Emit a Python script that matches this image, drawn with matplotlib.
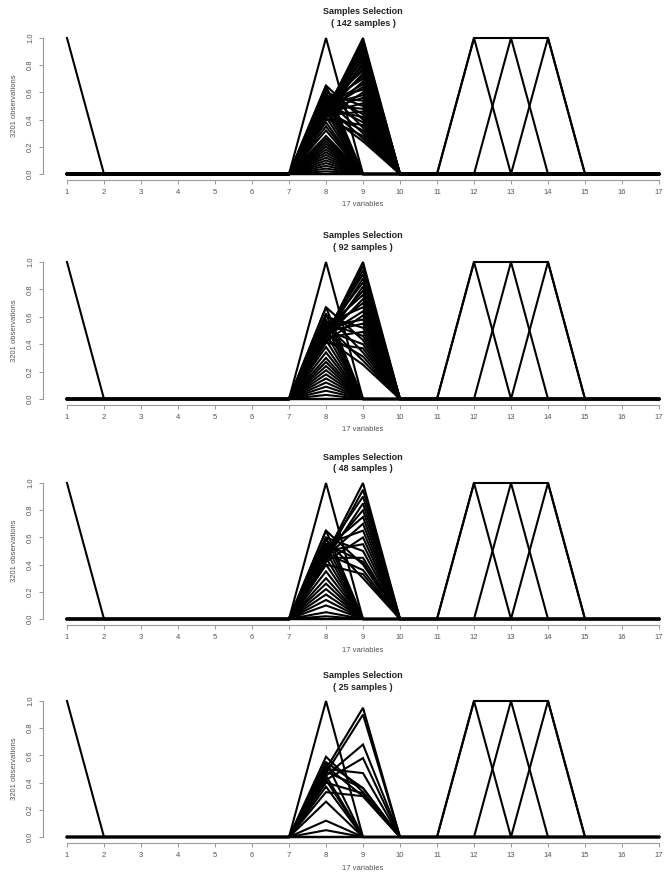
import matplotlib
matplotlib.use("Agg")
import matplotlib.pyplot as plt
import numpy as np

plt.rcParams['font.family'] = ['Liberation Sans', 'DejaVu Sans']

# ---- data ----
n_vars = 17
var_ids = list(range(1, n_vars + 1))
sample_counts = [142, 92, 48, 25]
n_obs = 3201

# indicator samples shared by all panels
var1_samples = [1.0]                       # value of variable 1
block_12_14 = [(1, 0, 0), (0, 1, 0), (0, 0, 1), (1, 1, 1)]  # variables 12, 13, 14

# (variable 8, variable 9) pairs per panel
p1_pairs = [
    (1.00, 0.00),
    (0.45, 1.00), (0.46, 0.98), (0.47, 0.96), (0.44, 0.94), (0.48, 0.92), (0.45, 0.90),
    (0.50, 0.88), (0.46, 0.86), (0.48, 0.84), (0.43, 0.82), (0.50, 0.80), (0.47, 0.78),
    (0.52, 0.76), (0.45, 0.74), (0.49, 0.72), (0.53, 0.70), (0.44, 0.68), (0.50, 0.66),
    (0.47, 0.64), (0.55, 0.62), (0.42, 0.60), (0.51, 0.58), (0.48, 0.56), (0.56, 0.54),
    (0.45, 0.52), (0.60, 0.50), (0.50, 0.48), (0.43, 0.46), (0.58, 0.44), (0.47, 0.42),
    (0.65, 0.40), (0.52, 0.38), (0.40, 0.36), (0.62, 0.34), (0.46, 0.32), (0.55, 0.30),
    (0.41, 0.28), (0.50, 0.26), (0.44, 0.24),
    (0.65, 0.00), (0.60, 0.00), (0.57, 0.00), (0.54, 0.00), (0.50, 0.00), (0.46, 0.00),
    (0.42, 0.00), (0.38, 0.00), (0.35, 0.00), (0.32, 0.00), (0.28, 0.00), (0.26, 0.00),
    (0.24, 0.00), (0.22, 0.00), (0.20, 0.00), (0.18, 0.00), (0.16, 0.00), (0.14, 0.00),
    (0.12, 0.00), (0.10, 0.00), (0.08, 0.00), (0.06, 0.00), (0.04, 0.00), (0.02, 0.00),
    (0.00, 0.00),
]
p2_pairs = [
    (1.00, 0.00),
    (0.46, 1.00), (0.47, 0.97), (0.45, 0.94), (0.49, 0.91), (0.46, 0.88), (0.50, 0.85),
    (0.44, 0.82), (0.48, 0.79), (0.52, 0.76), (0.45, 0.73), (0.50, 0.70), (0.55, 0.67),
    (0.47, 0.64), (0.42, 0.61), (0.53, 0.58), (0.49, 0.55), (0.60, 0.52), (0.45, 0.49),
    (0.56, 0.46), (0.67, 0.43), (0.50, 0.40), (0.41, 0.37), (0.62, 0.34), (0.47, 0.31),
    (0.54, 0.28), (0.44, 0.25),
    (0.67, 0.00), (0.62, 0.00), (0.58, 0.00), (0.53, 0.00), (0.48, 0.00), (0.43, 0.00),
    (0.38, 0.00), (0.34, 0.00), (0.30, 0.00), (0.27, 0.00), (0.24, 0.00), (0.21, 0.00),
    (0.18, 0.00), (0.15, 0.00), (0.12, 0.00), (0.09, 0.00), (0.06, 0.00), (0.03, 0.00),
    (0.00, 0.00),
]
p3_pairs = [
    (1.00, 0.00),
    (0.47, 1.00), (0.45, 0.95), (0.50, 0.90), (0.44, 0.85), (0.48, 0.80), (0.52, 0.75),
    (0.46, 0.70), (0.55, 0.65), (0.42, 0.60), (0.50, 0.55), (0.60, 0.50), (0.45, 0.45),
    (0.55, 0.42), (0.65, 0.40), (0.48, 0.36), (0.40, 0.33), (0.58, 0.30),
    (0.65, 0.00), (0.60, 0.00), (0.55, 0.00), (0.50, 0.00), (0.45, 0.00), (0.40, 0.00),
    (0.35, 0.00), (0.30, 0.00), (0.26, 0.00), (0.22, 0.00), (0.18, 0.00), (0.14, 0.00),
    (0.10, 0.00), (0.05, 0.00), (0.02, 0.00), (0.00, 0.00),
]
p4_pairs = [
    (1.00, 0.00),
    (0.50, 0.95), (0.47, 0.90), (0.45, 0.68), (0.42, 0.58), (0.50, 0.47), (0.55, 0.36),
    (0.59, 0.33), (0.52, 0.30), (0.48, 0.36), (0.40, 0.32), (0.33, 0.30),
    (0.55, 0.00), (0.45, 0.00), (0.42, 0.00), (0.37, 0.00), (0.26, 0.00), (0.12, 0.00),
    (0.05, 0.00), (0.00, 0.00),
]
panel_pairs = [p1_pairs, p2_pairs, p3_pairs, p4_pairs]

# pixel rows of y = 1.0 and y = 0.0 in each panel
panel_top_px = [38, 262, 483, 701]
panel_zero_px = [174, 399, 619, 837]


def build_rows(pairs):
    rows = []
    for v in var1_samples:
        r = np.zeros(n_vars)
        r[0] = v
        rows.append(r)
    for a, b in pairs:
        r = np.zeros(n_vars)
        r[7], r[8] = a, b
        rows.append(r)
    for pat in block_12_14:
        r = np.zeros(n_vars)
        r[11:14] = pat
        rows.append(r)
    return rows


W, H = 672, 877
fig = plt.figure(figsize=(W / 100, H / 100), dpi=100)

px_per_x = 37.0
x1_px = 67.0
left_px = 43.0
xlo = 1 - (x1_px - left_px) / px_per_x
xhi = 1 + (W - x1_px) / px_per_x
grey = '#555555'
mid_px = x1_px + 8 * px_per_x   # centre of the 1..17 range

for i, pairs in enumerate(panel_pairs):
    top, zero = panel_top_px[i], panel_zero_px[i]
    ppy = zero - top
    pad = 6
    ax = fig.add_axes([left_px / W, 1 - (zero + pad) / H, (W - left_px) / W, (ppy + 2 * pad) / H])
    ax.set_xlim(xlo, xhi)
    ax.set_ylim(-pad / ppy, 1 + pad / ppy)

    for r in build_rows(pairs):
        ax.plot(var_ids, r, color='black', lw=1.5, solid_joinstyle='miter')

    for s in ['top', 'right']:
        ax.spines[s].set_visible(False)
    ax.spines['bottom'].set_bounds(1, 17)
    ax.spines['left'].set_bounds(0, 1)
    for s in ['bottom', 'left']:
        ax.spines[s].set_color('#999999')
        ax.spines[s].set_linewidth(0.8)
    ax.set_xticks(var_ids)
    ax.set_yticks([0, 0.2, 0.4, 0.6, 0.8, 1.0])
    ax.set_yticklabels(['0.0', '0.2', '0.4', '0.6', '0.8', '1.0'], rotation=90, va='center')
    ax.tick_params(axis='both', labelsize=5.5, colors='#999999', labelcolor=grey, length=3, width=0.7)

    # title, two lines, in figure pixels
    fig.text(mid_px / W, 1 - (top - 26) / H, 'Samples Selection', ha='center', va='center',
             fontsize=6.5, fontweight='bold', color='#222222')
    fig.text(mid_px / W, 1 - (top - 14) / H, '( %d samples )' % sample_counts[i], ha='center',
             va='center', fontsize=6.5, fontweight='bold', color='#222222')
    fig.text(mid_px / W, 1 - (zero + 31) / H, '%d variables' % n_vars, ha='center', va='center',
             fontsize=5.5, color=grey)
    fig.text(15 / W, 1 - (top + zero) / 2 / H, '%d observations' % n_obs, ha='center', va='center',
             rotation=90, fontsize=5.5, color=grey)

fig.savefig('out.png', dpi=100)
